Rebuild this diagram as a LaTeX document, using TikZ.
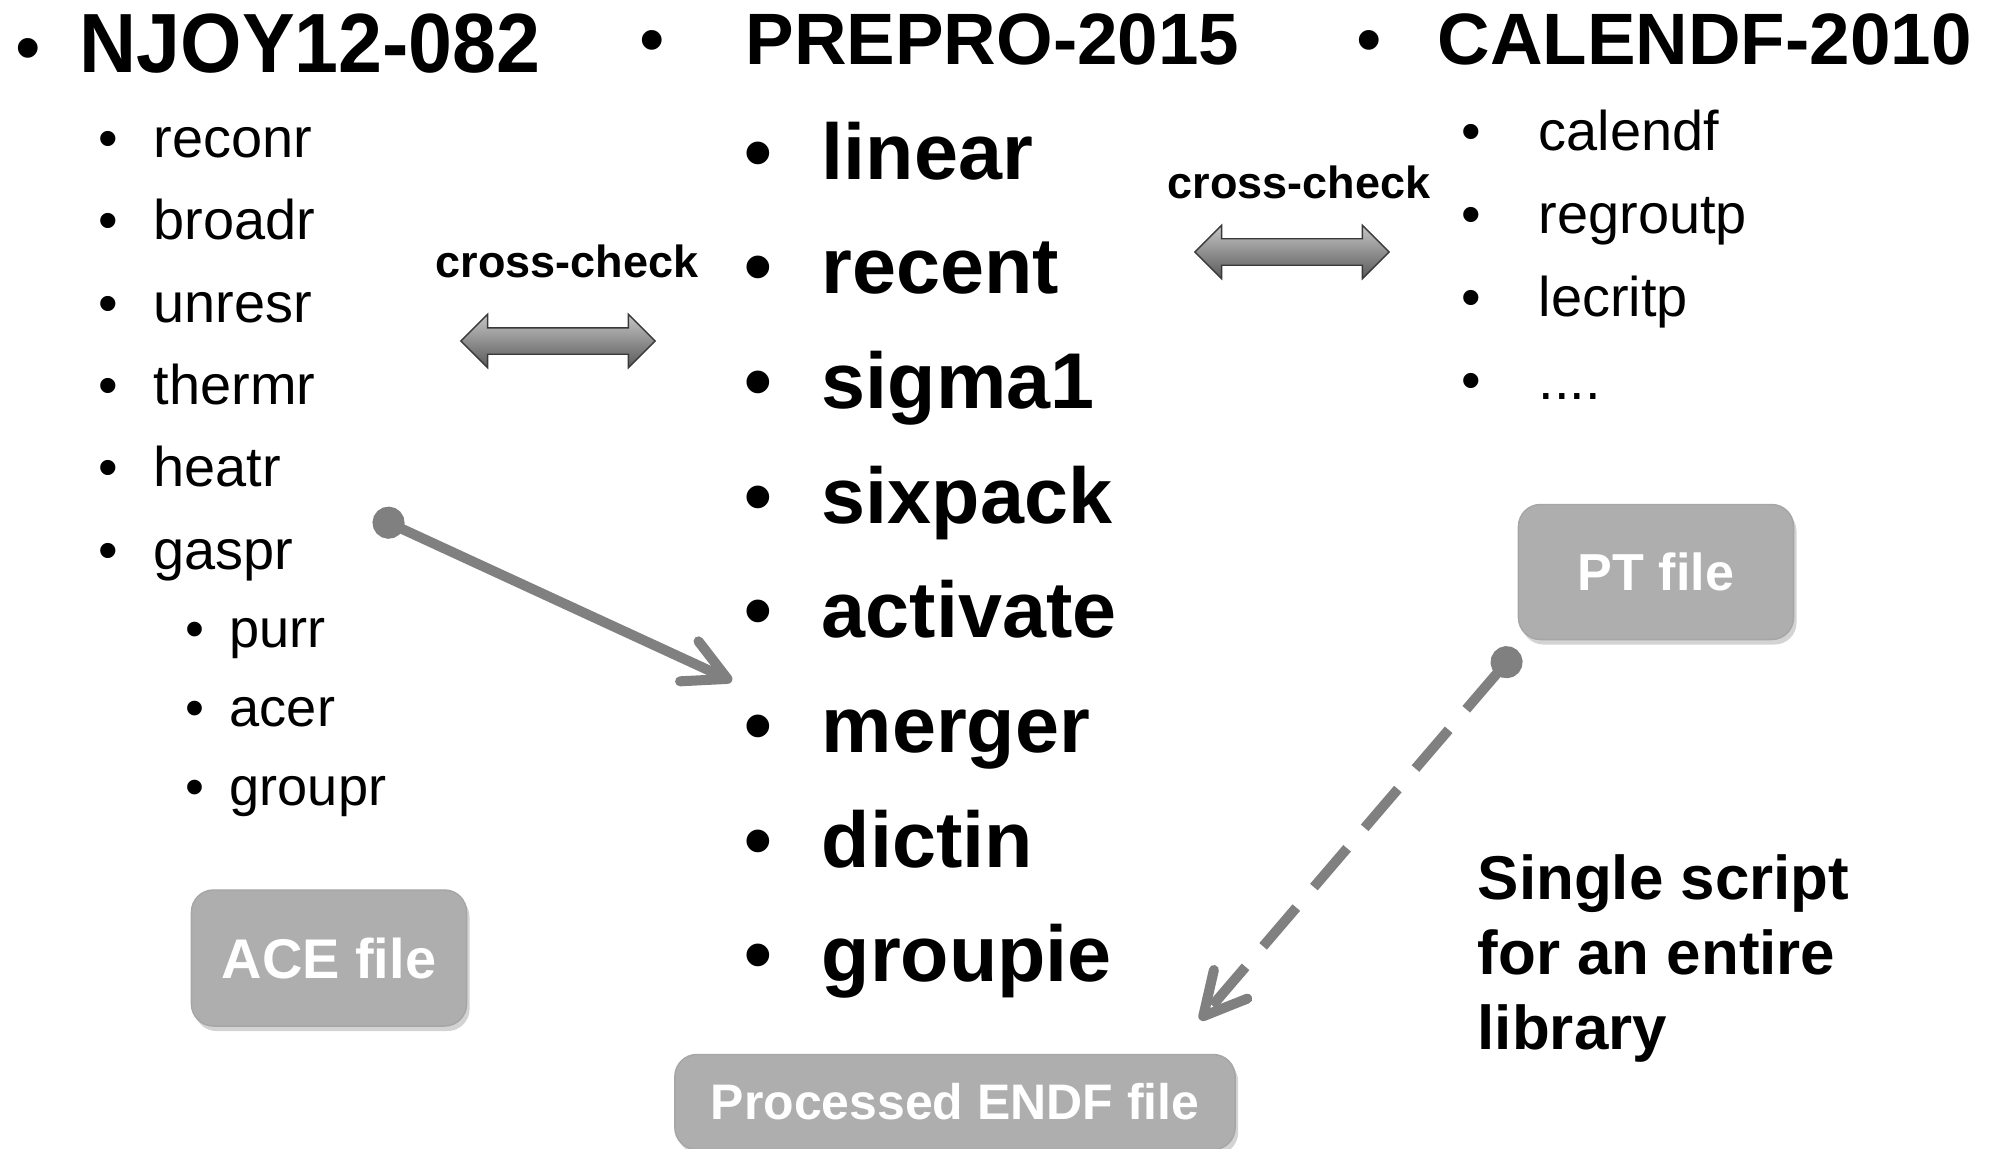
\documentclass[tikz,border=0pt]{standalone}
\usepackage{fontspec}
\setmainfont{Liberation Sans}
\usetikzlibrary{shapes.arrows,arrows.meta,shadows}
\definecolor{boxgray}{RGB}{174,174,174}
\definecolor{linkgray}{RGB}{128,128,128}
\begin{document}
\begin{tikzpicture}[x=0.01cm,y=-0.01cm,
  head/.style={anchor=base west,inner sep=0,font=\bfseries\fontsize{20.7pt}{24pt}\selectfont},
  hbul/.style={anchor=base,inner sep=0,font=\fontsize{20.7pt}{24pt}\selectfont},
  njitem/.style={anchor=base west,inner sep=0,font=\fontsize{15.9pt}{19pt}\selectfont},
  subitem/.style={anchor=base west,inner sep=0,font=\fontsize{15.4pt}{18pt}\selectfont},
  ppitem/.style={anchor=base west,inner sep=0,font=\bfseries\fontsize{22.5pt}{27pt}\selectfont},
  bul/.style={anchor=base,inner sep=0},
  xlabel/.style={inner sep=0,font=\bfseries\fontsize{12.8pt}{15pt}\selectfont},
  xarrow/.style={double arrow,double arrow head extend=0.135cm,inner xsep=0,inner ysep=0.125cm,
    minimum height=1.94cm,draw=gray!45!black,thin,
    top color=gray!45,middle color=gray!8,bottom color=gray!70!black},
  filebox/.style={rectangle,rounded corners=0.22cm,fill=boxgray,draw=gray!70,
    text=white,font=\bfseries,inner sep=0,
    drop shadow={opacity=0.35,shadow xshift=0.03cm,shadow yshift=-0.05cm}},
  link/.style={draw=linkgray,line width=2.85pt,
    {Circle[length=0.32cm]}-{Straight Barb[length=0.42cm,width=0.44cm,round]}}]
  \useasboundingbox (0,0) rectangle (1997,1148);
  % the three codes on top
  \node[hbul] (bnjoy) at (28,72) {•};
  \node[head,font=\bfseries\fontsize{23.9pt}{28pt}\selectfont\addfontfeatures{FakeStretch=0.94}]
    (hnjoy) at (79,72) {NJOY12-082};
  \node[hbul] (bprepro) at (652,64) {•};
  \node[head] (hprepro) at (745,64) {PREPRO-2015};
  \node[hbul] (bcalendf) at (1369,64) {•};
  \node[head] (hcalendf) at (1437,64) {CALENDF-2010};
  % NJOY modules
  \foreach \name/\y in {reconr/157,broadr/239,unresr/322,thermr/404,heatr/486,gaspr/569} {
    \node[bul,njitem,anchor=base] (b-\name) at (108,\y) {•};
    \node[njitem] (\name) at (153,\y) {\name};
  }
  \foreach \name/\y in {purr/647,acer/726,groupr/805} {
    \node[bul,subitem,anchor=base] (b-\name) at (195,\y) {•};
    \node[subitem] (\name) at (229,\y) {\name};
  }
  % PREPRO codes
  \foreach \name/\y in {linear/179,recent/293,sigma1/408,sixpack/523,activate/637,merger/752,dictin/867,groupie/981} {
    \node[bul,ppitem,anchor=base] (b-\name) at (758,\y) {•};
    \node[ppitem] (\name) at (821,\y) {\name};
  }
  % CALENDF codes
  \foreach \name/\y in {calendf/150,regroutp/233,lecritp/316} {
    \node[bul,njitem,anchor=base] (b-\name) at (1471,\y) {•};
    \node[njitem] (\name) at (1538,\y) {\name};
  }
  \node[bul,njitem,anchor=base] (b-more) at (1471,399) {•};
  \node[njitem] (more) at (1538,399) {....};
  % cross-checks
  \node[xlabel] (xlabL) at (567,261) {cross-check};
  \node[xarrow] (xchkL) at (558,341) {};
  \node[xlabel] (xlabR) at (1299,182) {cross-check};
  \node[xarrow] (xchkR) at (1292,252) {};
  % output files
  \node[filebox,minimum width=2.75cm,minimum height=1.36cm,
    font=\bfseries\fontsize{15.9pt}{19pt}\selectfont] (ace) at (329,958) {ACE file};
  \node[filebox,minimum width=2.75cm,minimum height=1.35cm,
    font=\bfseries\fontsize{14.8pt}{18pt}\selectfont] (pt) at (1656,572) {PT file};
  \node[filebox,minimum width=5.6cm,minimum height=0.95cm,
    font=\bfseries\fontsize{14.2pt}{17pt}\selectfont] (endf) at (955,1102) {Processed ENDF file};
  \node[anchor=north west,inner sep=0,align=left,
    font=\bfseries\fontsize{17.6pt}{21.3pt}\selectfont] (single) at (1477,854)
    {Single script\\for an entire\\library};
  % links
  \coordinate (gtail) at (374,516);
  \coordinate (mhead) at (732,681);
  \coordinate (pttail) at (1517,650);
  \coordinate (ehead) at (1200,1020);
  \draw[link] (gtail) -- (mhead);
  \draw[link,dash pattern=on 0.51cm off 0.27cm] (pttail) -- (ehead);
\end{tikzpicture}
\end{document}
